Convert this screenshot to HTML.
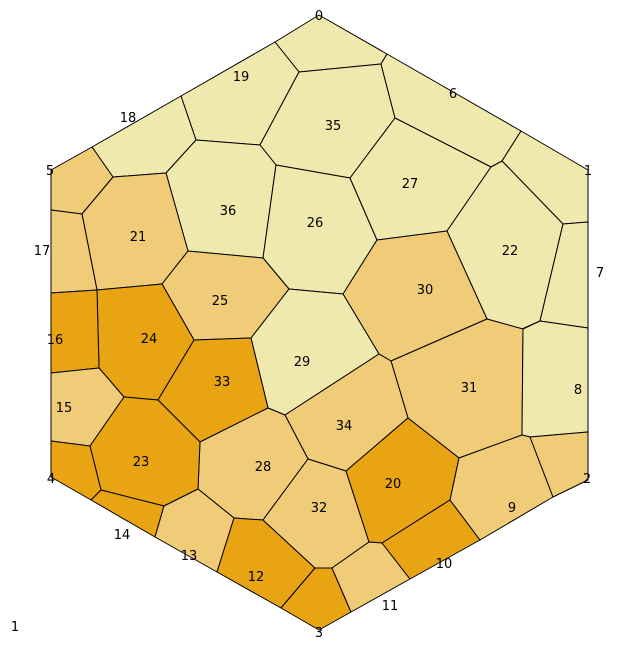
<!DOCTYPE html>
<html><head><meta charset="utf-8"><style>
body{margin:0;background:#fff;}
svg{display:block;font-family:"DejaVu Sans","Liberation Sans",sans-serif;font-size:13px;}
</style></head><body>
<svg id="map" width="640" height="650" viewBox="0 0 640 650">
<text x="15" y="631" text-anchor="middle">1</text>
</svg>
<script>
const cellIds=[0,19,18,5,35,6,1,36,21,17,26,27,22,7,30,25,24,16,29,33,31,8,15,34,28,23,4,14,13,12,3,32,20,11,10,9,2];
const cellLevels=[0,0,0,1,0,0,0,0,1,1,0,0,0,0,1,1,2,2,0,2,1,0,1,1,1,2,2,2,1,2,2,1,2,1,2,1,1];
const cellPolys=[
[[319,15],[387,54],[381,64],[299,72],[275,42]],
[[275,42],[299,72],[260,145],[196,140],[181,96]],
[[181,96],[196,140],[166,173],[113,177],[92,147]],
[[51,170],[92,147],[113,177],[82,214],[51,210]],
[[299,72],[381,64],[395,118],[350,178],[276,165],[260,145]],
[[387,54],[521,131],[502,161],[491,167],[395,118],[381,64]],
[[521,131],[588,170],[588,222],[563,224],[502,161]],
[[166,173],[196,140],[260,145],[276,165],[263,258],[188,251]],
[[113,177],[166,173],[188,251],[162,284],[97,290],[82,214]],
[[51,210],[82,214],[97,290],[51,293]],
[[276,165],[350,178],[377,240],[343,294],[289,289],[263,258]],
[[395,118],[491,167],[447,231],[377,240],[350,178]],
[[491,167],[502,161],[563,224],[540,321],[522,329],[487,319],[447,231]],
[[563,224],[588,222],[588,328],[540,321]],
[[377,240],[447,231],[487,319],[391,361],[379,354],[343,294]],
[[188,251],[263,258],[289,289],[251,338],[194,340],[162,284]],
[[97,290],[162,284],[194,340],[158,400],[124,397],[99,368]],
[[51,293],[97,290],[99,368],[51,373]],
[[289,289],[343,294],[379,354],[285,415],[268,408],[251,338]],
[[194,340],[251,338],[268,408],[200,442],[158,400]],
[[391,361],[487,319],[523,329],[522,435],[459,458],[408,418]],
[[540,321],[588,328],[588,432],[530,437],[522,435],[523,329]],
[[51,373],[99,368],[124,397],[90,446],[51,441]],
[[379,354],[391,361],[408,418],[346,471],[308,459],[285,415]],
[[200,442],[268,408],[285,415],[308,459],[263,520],[234,518],[198,489]],
[[124,397],[158,400],[200,442],[198,489],[164,506],[101,490],[90,446]],
[[51,441],[90,446],[101,490],[91,500],[51,477]],
[[91,500],[101,490],[164,506],[155,537]],
[[155,537],[164,506],[198,489],[234,518],[217,572]],
[[217,572],[234,518],[263,520],[315,568],[281,608]],
[[281,608],[315,568],[332,568],[351,612],[319,630]],
[[263,520],[308,459],[346,471],[369,542],[332,568],[315,568]],
[[346,471],[408,418],[459,458],[450,500],[382,543],[369,542]],
[[332,568],[369,542],[382,543],[410,579],[351,612]],
[[382,543],[450,500],[480,540],[410,579]],
[[450,500],[459,458],[522,435],[530,437],[553,497],[480,540]],
[[530,437],[588,432],[588,480],[553,497]]
];
const labelPos=[[319,20],[241,81],[128,122],[50,175],[333,130],[453,98],[588,175],[228,215],[138,241],[42,255],[315,227],[410,188],[510,255],[600,277],[425,294],[220,305],[149,343],[55,344],[302,366],[222,386],[469,392],[578,394],[64,412],[344,430],[263,471],[141,466],[51,483],[122,539],[189,560],[256,581],[319,637],[319,512],[393,488],[390,610],[444,568],[512,512],[587,483]];
const palette=["#f0e9ae","#f0cc78","#e8a412"];
const svg=document.getElementById('map');
const ns='http://www.w3.org/2000/svg';
const stray=svg.firstElementChild;
cellPolys.forEach((p,i)=>{
  const pg=document.createElementNS(ns,'polygon');
  pg.setAttribute('points',p.map(v=>v.join(',')).join(' '));
  pg.setAttribute('fill',palette[cellLevels[i]]);
  pg.setAttribute('stroke','#000');
  pg.setAttribute('stroke-width','1');
  pg.setAttribute('stroke-linejoin','round');
  
  
  svg.insertBefore(pg,stray);
});
cellIds.forEach((id,i)=>{
  const t=document.createElementNS(ns,'text');
  t.setAttribute('x',labelPos[i][0]);
  t.setAttribute('y',labelPos[i][1]);
  t.setAttribute('text-anchor','middle');
  t.textContent=id;
  
  
  svg.appendChild(t);
});
</script>
</body></html>
